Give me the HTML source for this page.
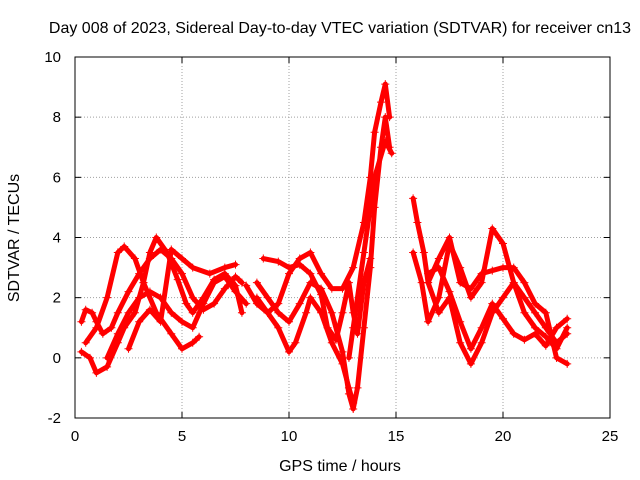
<!DOCTYPE html>
<html><head><meta charset="utf-8"><style>
body{margin:0;background:#fff}
svg{display:block;font-family:"Liberation Sans",sans-serif}
</style></head><body>
<svg id="chart" width="640" height="480" viewBox="0 0 640 480">
<rect width="640" height="480" fill="#fff"/>
<text x="340" y="33" font-size="16" text-anchor="middle">Day 008 of 2023, Sidereal Day-to-day VTEC variation (SDTVAR) for receiver cn13</text>
<g id="grid"></g>
<g id="axes"></g>
<g id="series"></g>
<rect x="75" y="57" width="535" height="361" fill="none" stroke="#000" stroke-width="1"/>
<text x="340" y="471" font-size="16" text-anchor="middle">GPS time / hours</text>
<text transform="translate(19,238) rotate(-90)" font-size="16" text-anchor="middle">SDTVAR / TECUs</text>
</svg>
<script>
const xTicks=[0,5,10,15,20,25];
const yTicks=[-2,0,2,4,6,8,10];
const trackA=[[0.3,1.2],[0.5,1.6],[0.8,1.5],[1.0,1.2],[1.3,0.8],[1.7,1.0],[2.0,1.5],[2.5,2.2],[3.0,2.8],[3.5,3.3],[4.0,3.6],[4.5,3.3],[5.0,2.8],[5.5,2.0],[6.0,1.6],[6.5,1.8],[7.0,2.3],[7.5,2.7],[7.8,2.5]];
const trackB=[[0.3,0.2],[0.7,0],[1.0,-0.5],[1.5,-0.3],[2.0,0.5],[2.3,1.0],[2.8,1.5],[3.2,2.5],[3.5,3.5],[3.8,4.0],[4.3,3.5],[4.8,2.6],[5.2,1.8],[5.5,1.5],[6.0,2.0],[6.5,2.6],[7.0,2.8],[7.5,2.4],[7.8,1.5]];
const trackC=[[0.5,0.5],[1.0,1.0],[1.5,2.0],[2.0,3.5],[2.3,3.7],[2.8,3.3],[3.2,2.5],[3.8,1.5],[4.5,0.8],[5.0,0.3],[5.5,0.5],[5.8,0.7]];
const trackD=[[1.5,0],[2.0,0.8],[2.5,1.5],[3.0,2.0],[3.5,2.2],[4.0,2.0],[4.5,1.5],[5.0,1.2],[5.5,1.0],[6.0,1.8],[6.5,2.5],[7.0,2.7],[7.5,2.2],[8.0,1.8]];
const trackE=[[2.5,0.3],[3.0,1.2],[3.5,1.6],[4.0,1.2],[4.5,3.6],[5.0,3.3],[5.5,3.0],[6.3,2.8],[7.0,3.0],[7.5,3.1]];
const trackF=[[8.5,2.5],[9.0,2.0],[9.5,1.5],[10.0,1.2],[10.5,1.8],[11.0,2.5],[11.5,2.3],[12.0,1.5],[12.5,0.2],[12.8,-1.2],[13.0,-1.7],[13.2,-1.0],[13.5,1.0],[13.8,3.0],[14.0,5.0],[14.3,7.0],[14.5,8.0],[14.7,7.0]];
const trackG=[[8.5,2.0],[9.0,1.5],[9.5,1.8],[10.0,2.8],[10.5,3.3],[11.0,3.5],[11.5,2.8],[12.0,2.3],[12.5,2.3],[13.0,3.0],[13.5,4.5],[13.8,6.0],[14.0,7.5],[14.3,8.5],[14.5,9.1],[14.7,8.0]];
const trackH=[[8.8,3.3],[9.5,3.2],[10.0,3.0],[10.5,3.1],[11.0,2.8],[11.5,2.1],[11.8,1.0],[12.2,0.6],[12.5,1.5],[12.8,2.5],[13.0,1.5],[13.2,0.8],[13.5,2.5],[13.8,3.3]];
const trackI=[[8.0,2.4],[8.5,1.8],[9.0,1.5],[9.5,1.0],[10.0,0.2],[10.3,0.5],[10.8,1.5],[11.0,2.0],[11.5,1.5],[12.0,0.5],[12.5,-0.2],[12.8,-1.0],[13.0,-1.5]];
const trackN=[[12.8,0],[13.0,1.0],[13.5,3.5],[14.0,6.0],[14.5,7.2],[14.8,6.8]];
const trackJ=[[15.8,5.3],[16.0,4.5],[16.3,3.5],[16.5,2.5],[17.0,1.5],[17.5,2.0],[18.0,0.5],[18.5,-0.2],[19.0,0.5],[19.5,1.5],[20.0,2.0],[20.5,2.5],[21.0,2.0],[21.5,1.5],[22.0,1.0],[22.5,0.5],[23.0,0.8]];
const trackK=[[15.8,3.5],[16.2,2.5],[16.5,1.2],[17.0,2.0],[17.5,3.8],[18.0,3.0],[18.5,2.0],[19.0,2.5],[19.5,4.3],[20.0,3.8],[20.5,2.5],[21.0,1.5],[21.5,1.0],[22.0,0.7],[22.5,0.3],[23.0,1.0]];
const trackL=[[16.5,2.8],[17.0,3.0],[17.5,2.2],[18.0,1.2],[18.5,0.3],[19.0,1.0],[19.5,1.8],[20.0,1.3],[20.5,0.8],[21.0,0.6],[21.5,0.8],[22.0,0.4],[22.5,1.0],[23.0,1.3]];
const trackM=[[16.5,2.5],[17.0,3.3],[17.5,4.0],[18.0,2.5],[18.5,2.3],[19.0,2.8],[19.5,2.9],[20.0,3.0],[20.5,3.0],[21.0,2.5],[21.5,1.8],[22.0,1.5],[22.5,0],[23.0,-0.2]];
const tracks=[trackA,trackB,trackC,trackD,trackE,trackF,trackG,trackH,trackI,trackN,trackJ,trackK,trackL,trackM];

const NS="http://www.w3.org/2000/svg";
const L=75,R=610,T=57,B=418;
const xs=v=>L+(v-0)/(25-0)*(R-L);
const ys=v=>B-(v+2)/(12)*(B-T);
function mk(tag,attrs,parent){const e=document.createElementNS(NS,tag);for(const k in attrs)e.setAttribute(k,attrs[k]);parent.appendChild(e);return e;}
const grid=document.getElementById('grid'),axes=document.getElementById('axes'),ser=document.getElementById('series');
xTicks.forEach(t=>{
  const x=xs(t);
  if(t>0&&t<25){const g=mk('line',{x1:x,x2:x,y1:T,y2:B,stroke:'#a0a0a0','stroke-dasharray':'1,2'},grid);
  
  }
  mk('line',{x1:x,x2:x,y1:B,y2:B-6,stroke:'#000'},axes);
  mk('line',{x1:x,x2:x,y1:T,y2:T+6,stroke:'#000'},axes);
  const tx=mk('text',{x:x,y:B+23,'font-size':15,'text-anchor':'middle'},axes);
  
  
  tx.textContent=t;
});
yTicks.forEach(t=>{
  const y=ys(t);
  if(t>-2&&t<10){const g=mk('line',{x1:L,x2:R,y1:y,y2:y,stroke:'#a0a0a0','stroke-dasharray':'1,2'},grid);
  
  }
  mk('line',{x1:L,x2:L+6,y1:y,y2:y,stroke:'#000'},axes);
  mk('line',{x1:R,x2:R-6,y1:y,y2:y,stroke:'#000'},axes);
  const tx=mk('text',{x:L-14,y:y+5,'font-size':15,'text-anchor':'end'},axes);
  
  
  tx.textContent=t;
});
tracks.forEach(tr=>{
  const pl=mk('polyline',{points:tr.map(p=>xs(p[0])+','+ys(p[1])).join(' '),fill:'none',stroke:'#ff0000','stroke-width':5,'stroke-linejoin':'round','stroke-linecap':'round'},ser);
  
  
  tr.forEach(p=>{
    const x=xs(p[0]),y=ys(p[1]);
    const m=mk('path',{d:`M${x-4},${y}h8M${x},${y-4}v8`,stroke:'#ff0000','stroke-width':1},ser);
    
    
  });
});
</script>
</body></html>
